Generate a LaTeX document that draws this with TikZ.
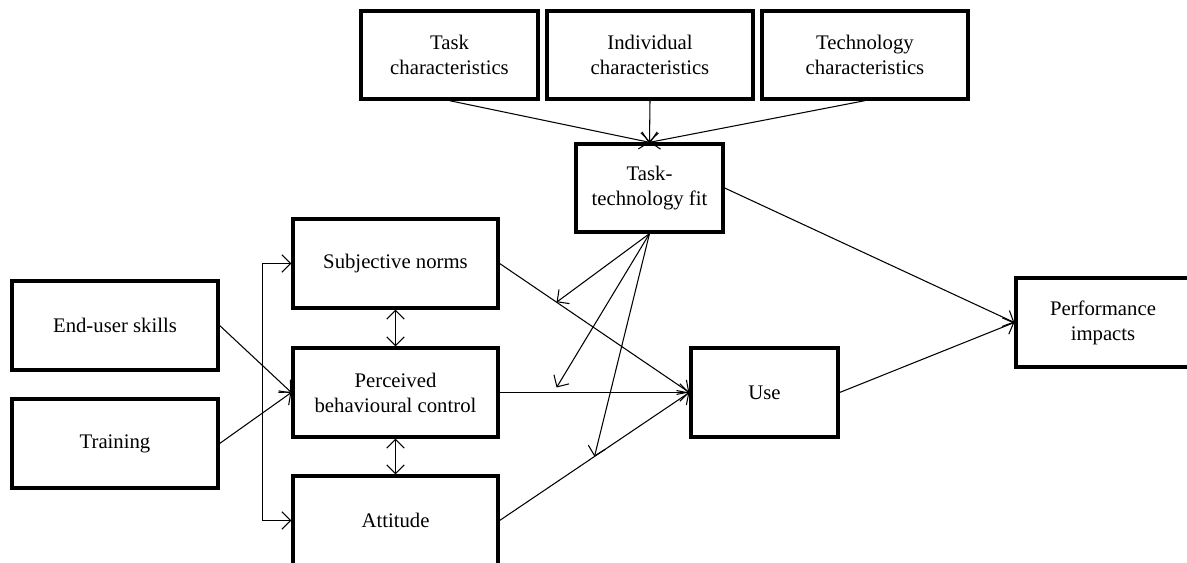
\documentclass[tikz,border=0pt]{standalone}
\usepackage{fontspec}
\setmainfont{Liberation Serif}
\usepackage{tikz}
\usetikzlibrary{arrows.meta,calc}

\begin{document}
\begin{tikzpicture}[x=0.02cm,y=-0.02cm,
    box/.style={draw,line width=1.9pt,align=center,inner sep=0pt,
        minimum height=1.78cm,font=\fontsize{11.8pt}{14.2pt}\selectfont},
    link/.style={-{Straight Barb[length=5pt,width=10pt]},line width=0.6pt},
    twoway/.style={{Straight Barb[length=5pt,width=10pt]}-{Straight Barb[length=5pt,width=10pt]},line width=0.6pt}]
    \useasboundingbox (0,0) rectangle (1187,563);

    % top row
    \node[box,minimum width=3.54cm,minimum height=1.76cm] (task) at (449.5,55) {Task\\characteristics};
    \node[box,minimum width=4.12cm,minimum height=1.76cm] (indiv) at (650,55) {Individual\\characteristics};
    \node[box,minimum width=4.12cm,minimum height=1.76cm] (techn) at (865,55) {Technology\\characteristics};
    \node[box,minimum width=2.94cm,minimum height=1.76cm] (ttf) at (649.5,188) {Task-\\technology fit};

    % left side
    \node[box,minimum width=4.12cm] (skills) at (115,325.5) {End-user skills};
    \node[box,minimum width=4.12cm] (train) at (115,443.5) {Training};
    \node[box,minimum width=4.1cm] (sn) at (395.5,263.5) {Subjective norms};
    \node[box,minimum width=4.1cm] (pbc) at (395.5,392.5) {Perceived\\behavioural control};
    \node[box,minimum width=4.1cm] (att) at (395.5,520.5) {Attitude};

    % right side
    \node[box,minimum width=2.94cm] (use) at (764.5,392.5) {Use};
    \node[box,minimum width=3.48cm] (perf) at (1103,322.5) {Performance\\impacts};

    \draw[link] (task.south) -- (ttf.north);
    \draw[link] (indiv.south) -- (ttf.north);
    \draw[link] (techn.south) -- (ttf.north);

    \draw[link] (skills.east) -- (pbc.west);
    \draw[link] (train.east) -- (pbc.west);
    \draw[twoway] (sn.west) -- ++(-29,0) |- (att.west);
    \draw[twoway] (sn.south) -- (pbc.north);
    \draw[twoway] (pbc.south) -- (att.north);

    \draw[link] (sn.east) -- (use.west);
    \draw[link] (pbc.east) -- (use.west);
    \draw[link] (att.east) -- (use.west);

    % moderating effects of fit
    \coordinate (mod1) at ($(sn.east)!0.3!(use.west)$);
    \coordinate (mod2) at ($(pbc.east)!0.3!(use.west)+(0,-5)$);
    \coordinate (mod3) at ($(att.east)!0.5!(use.west)$);
    \draw[link] (ttf.south) -- (mod1);
    \draw[link] (ttf.south) -- (mod2);
    \draw[link] (ttf.south) -- (mod3);

    \draw[link] (ttf.east) -- (perf.west);
    \draw[link] (use.east) -- (perf.west);
\end{tikzpicture}
\end{document}
